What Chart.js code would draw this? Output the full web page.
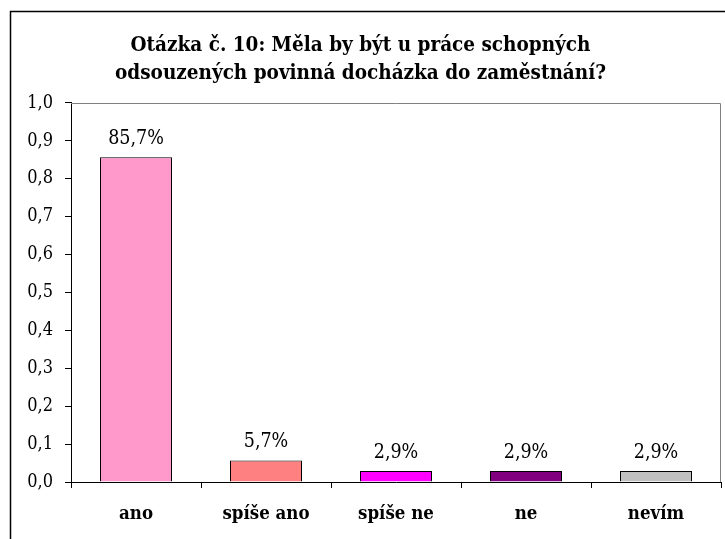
<!DOCTYPE html>
<html>
<head>
<meta charset="utf-8">
<script src="https://cdn.jsdelivr.net/npm/chart.js@4/dist/chart.umd.min.js"></script>
<style>
  html, body { margin: 0; padding: 0; background: #fff; }
  #wrap { position: relative; width: 725px; height: 539px; }
</style>
</head>
<body>
<div id="wrap"><canvas id="chart" width="725" height="539"></canvas></div>
<script>
const categories = ["ano", "spíše ano", "spíše ne", "ne", "nevím"];
const shares = [0.857, 0.057, 0.029, 0.029, 0.029];
const barColors = ["#FF99CC", "#FF8080", "#FF00FF", "#800080", "#C0C0C0"];
const titleLines = ["Otázka č. 10: Měla by být u práce schopných", "odsouzených povinná docházka do zaměstnání?"];

const serif = "'DejaVu Serif Condensed', 'Liberation Serif', serif";
const fmt = v => v.toFixed(1).replace(".", ",");

// frame around the whole chart (cut off right/bottom) + grey plot-area border
const frame = {
    id: "frame",
    beforeDraw: (chart) => {
        let ctx = chart.ctx;
        ctx.save();
        ctx.fillStyle = "#fff";
        ctx.fillRect(0, 0, chart.width, chart.height);
        ctx.strokeStyle = "#000";
        ctx.lineWidth = 1.5;
        ctx.strokeRect(10.5, 11.5, 800, 600);
        ctx.restore();
    },
    beforeDatasetsDraw: (chart) => {
        let a = chart.chartArea;
        let ctx = chart.ctx;
        ctx.save();
        ctx.strokeStyle = "#808080";
        ctx.lineWidth = 1;
        ctx.beginPath();
        ctx.moveTo(a.left, Math.round(a.top) + 0.5);
        ctx.lineTo(Math.round(a.right) - 0.5, Math.round(a.top) + 0.5);
        ctx.lineTo(Math.round(a.right) - 0.5, a.bottom);
        ctx.stroke();
        ctx.restore();
    }
};

// percentage labels above the bars
const valueLabels = {
    id: "valueLabels",
    afterDatasetsDraw: (chart) => {
        let ctx = chart.ctx;
        ctx.save();
        ctx.font = "19.5px " + serif;
        ctx.fillStyle = "#000";
        ctx.textAlign = "center";
        ctx.textBaseline = "alphabetic";
        chart.getDatasetMeta(0).data.forEach((bar, i) => {
            let txt = (shares[i] * 100).toFixed(1).replace(".", ",") + "%";
            ctx.fillText(txt, bar.x, bar.y - 13);
        });
        ctx.restore();
    }
};

new Chart(document.getElementById("chart").getContext("2d"), {
    type: "bar",
    data: {
        labels: categories,
        datasets: [{
            data: shares,
            backgroundColor: barColors,
            borderColor: "#000",
            borderWidth: 1,
            categoryPercentage: 0.554,
            barPercentage: 1.0
        }]
    },
    options: {
        responsive: false,
        animation: false,
        layout: { padding: { left: 0, right: 4, top: 0, bottom: 13 } },
        plugins: {
            legend: { display: false },
            tooltip: { enabled: false },
            title: {
                display: true,
                text: titleLines,
                color: "#000",
                font: { family: serif, size: 20.5, weight: "bold", lineHeight: 1.39 },
                padding: { top: 31, bottom: 15 }
            }
        },
        scales: {
            y: {
                min: 0,
                max: 1,
                afterFit: (scale) => { scale.width = 71; },
                ticks: {
                    stepSize: 0.1,
                    color: "#000",
                    font: { family: serif, size: 18 },
                    padding: 12,
                    callback: v => fmt(v)
                },
                grid: { drawOnChartArea: false, drawTicks: true, tickLength: 6, color: "#000" },
                border: { display: true, color: "#000", width: 1 }
            },
            x: {
                afterFit: (scale) => { scale.height = 44; },
                ticks: {
                    color: "#000",
                    font: { family: serif, size: 18.5, weight: "bold" },
                    padding: 15
                },
                grid: { offset: true, drawOnChartArea: false, drawTicks: true, tickLength: 6, color: "#000" },
                border: { display: true, color: "#000", width: 1 }
            }
        }
    },
    plugins: [frame, valueLabels]
});
</script>
</body>
</html>
